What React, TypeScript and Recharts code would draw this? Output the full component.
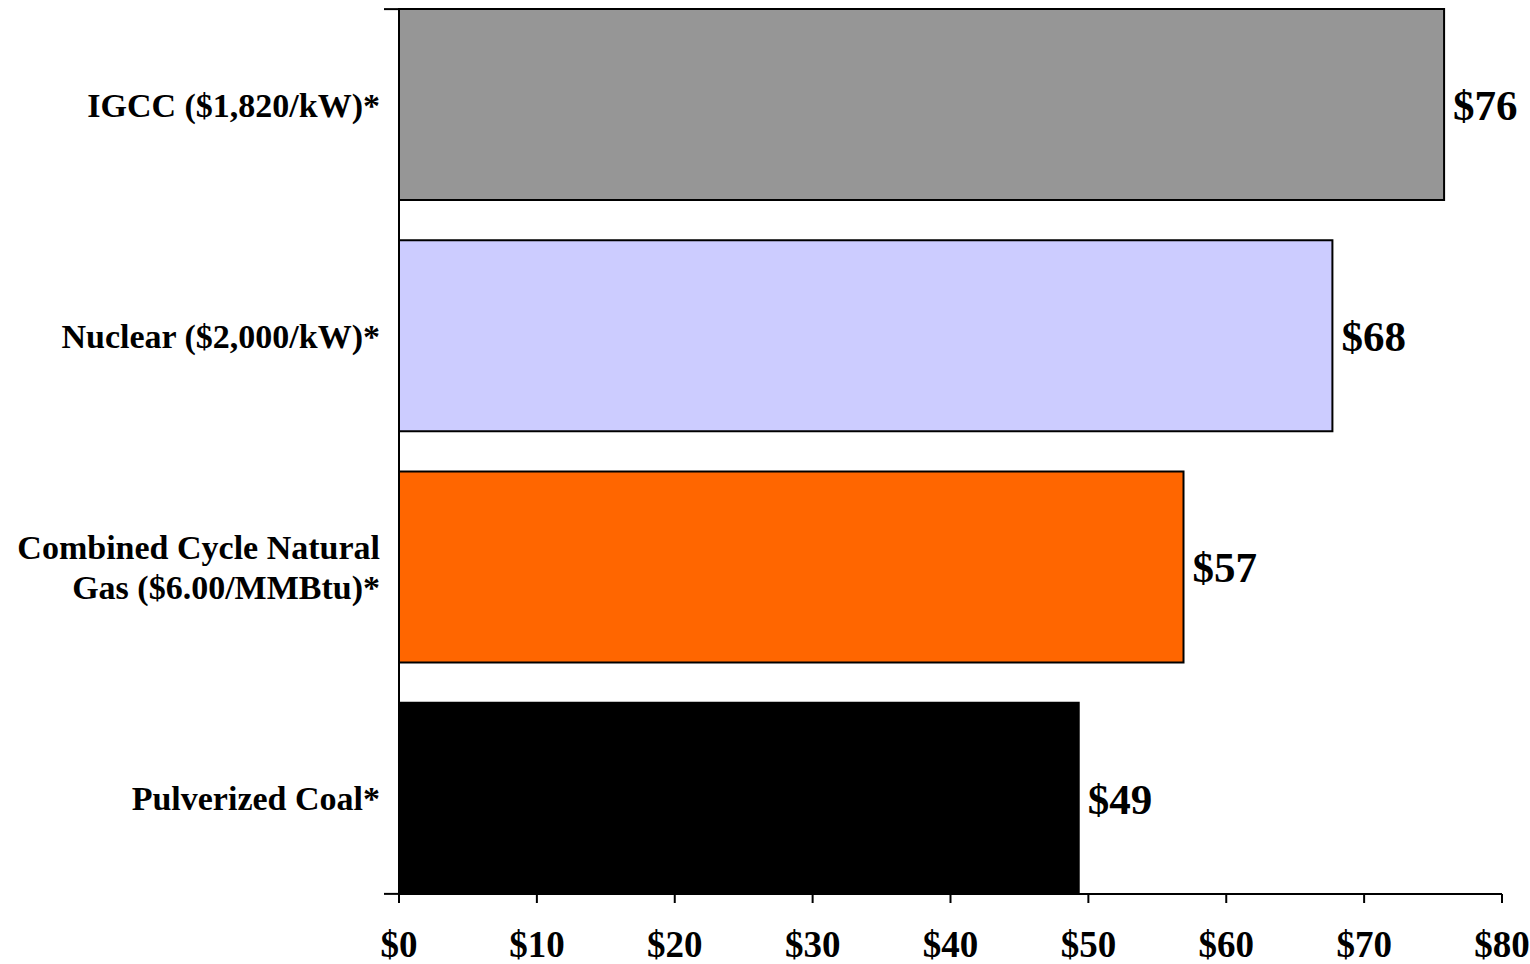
import React from "react";
import { BarChart, Bar, XAxis, YAxis, Cell, LabelList } from "recharts";

const categories = [
  "IGCC ($1,820/kW)*",
  "Nuclear ($2,000/kW)*",
  "Combined Cycle Natural\nGas ($6.00/MMBtu)*",
  "Pulverized Coal*",
];
const costs = [75.8, 67.7, 56.9, 49.3];
const colors = ["#969696", "#CCCCFF", "#FF6600", "#000000"];
const xTicks = [0, 10, 20, 30, 40, 50, 60, 70, 80];

const data = categories.map((name, i) => ({ name, cost: costs[i] }));

const font = '"Liberation Serif", "Times New Roman", serif';
const BAR_SIZE = 191;
const LABEL_GAP = 19;
const END_TICK = 15;

// category label, plus the tick marks Excel draws at both ends of the axis
const CategoryTick = (props: any) => {
  const { x, y, payload, index, visibleTicksCount } = props;
  const lines: string[] = String(payload.value).split("\n");
  const lineH = 40;
  const startY = y - ((lines.length - 1) * lineH) / 2;
  const axisX = x + LABEL_GAP;
  return (
    <g>
      {index === 0 && (
        <line x1={axisX - END_TICK} x2={axisX} y1={y - BAR_SIZE / 2} y2={y - BAR_SIZE / 2} stroke="#000" strokeWidth={2} />
      )}
      {index === visibleTicksCount - 1 && (
        <line x1={axisX - END_TICK} x2={axisX} y1={y + BAR_SIZE / 2} y2={y + BAR_SIZE / 2} stroke="#000" strokeWidth={2} />
      )}
      <text
        x={x}
        y={startY}
        textAnchor="end"
        dominantBaseline="central"
        fontFamily={font}
        fontWeight="bold"
        fontSize={34}
        fill="#000"
      >
        {lines.map((l, i) => (
          <tspan key={i} x={x} y={startY + i * lineH}>
            {l}
          </tspan>
        ))}
      </text>
    </g>
  );
};

const App: React.FC = () => {
  return (
    <div style={{ position: "absolute", left: 0, top: 0, background: "#fff" }}>
      <BarChart
        layout="vertical"
        width={1530}
        height={964}
        data={data}
        margin={{ top: 9, right: 28, bottom: 0, left: 0 }}
      >
        <YAxis
          type="category"
          dataKey="name"
          width={399}
          padding={{ top: -20, bottom: -20 }}
          axisLine={{ stroke: "#000", strokeWidth: 2 }}
          tickLine={false}
          tickSize={0}
          tickMargin={LABEL_GAP}
          tick={<CategoryTick />}
          interval={0}
        />
        <XAxis
          type="number"
          domain={[0, 80]}
          ticks={xTicks}
          height={70}
          axisLine={{ stroke: "#000", strokeWidth: 2 }}
          tickLine={{ stroke: "#000", strokeWidth: 2 }}
          tickSize={9}
          tickMargin={28}
          tickFormatter={(v: number) => `$${v}`}
          tick={{ fontFamily: font, fontWeight: "bold", fontSize: 37, fill: "#000" }}
          interval={0}
        />
        <Bar dataKey="cost" barSize={BAR_SIZE} stroke="#000" strokeWidth={2} isAnimationActive={false}>
          {data.map((d, i) => (
            <Cell key={d.name} fill={colors[i]} />
          ))}
          <LabelList
            dataKey="cost"
            position="right"
            offset={9}
            formatter={(v: any) => `$${Math.round(Number(v))}`}
            style={{ fontFamily: font, fontWeight: "bold", fontSize: 43, fill: "#000" }}
          />
        </Bar>
      </BarChart>
    </div>
  );
};

export default App;
